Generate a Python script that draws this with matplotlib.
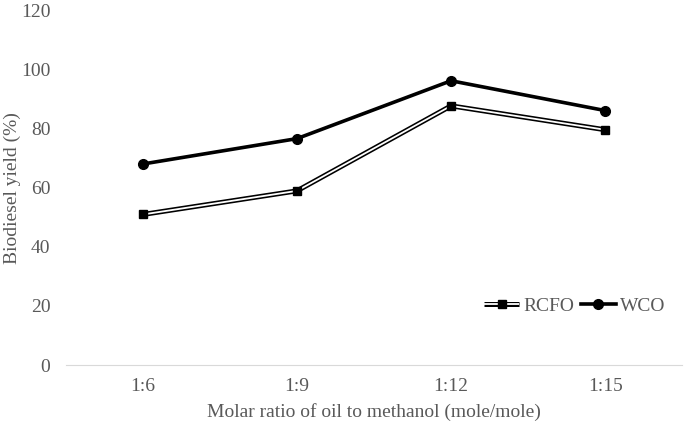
import matplotlib.pyplot as plt
from matplotlib.legend_handler import HandlerTuple
import numpy as np

plt.rcParams['font.family'] = ['Liberation Serif', 'DejaVu Serif']

# 数据
ratios = ['1:6', '1:9', '1:12', '1:15']
rcfo = [51.0, 59.0, 87.8, 79.7]
wco = [68.1, 76.7, 96.3, 86.2]

grey = '#595959'
x = np.arange(len(ratios))

fig = plt.figure(figsize=(6.85, 4.32), dpi=100)
ax = fig.add_axes([0.096, 0.155, 0.9, 0.82])

# RCFO: 双线 (黑色外框, 白色内芯)
l1, = ax.plot(x, rcfo, color='black', lw=3.6, solid_capstyle='butt')
l2, = ax.plot(x, rcfo, color='white', lw=1.3, solid_capstyle='butt')
l3, = ax.plot(x, rcfo, ls='none', marker='s', ms=6.4, mfc='black', mec='black')
w, = ax.plot(x, wco, color='black', lw=2.6, marker='o', ms=7)

ax.set_xlim(-0.5, 3.5)
ax.set_ylim(0, 120)
ax.set_yticks(np.arange(0, 121, 20))
ax.set_xticks(x)
ax.set_xticklabels(ratios)

for s in ['top', 'right', 'left']:
    ax.spines[s].set_visible(False)
ax.spines['bottom'].set_color('#d9d9d9')
ax.tick_params(axis='both', length=0, colors=grey, labelsize=14)
ax.tick_params(axis='x', pad=9)
ax.tick_params(axis='y', pad=11)

ax.set_xlabel('Molar ratio of oil to methanol (mole/mole)', color=grey, fontsize=14, labelpad=6)
fig.text(12 / 685, 0.565, 'Biodiesel yield (%)', color=grey, fontsize=14,
         rotation=90, ha='center', va='center')

leg = ax.legend([(l1, l2, l3), w], ['RCFO', 'WCO'],
                handler_map={tuple: HandlerTuple(ndivide=1, pad=0)},
                loc='center right', bbox_to_anchor=(0.985, 0.167), borderaxespad=0,
                ncol=2, frameon=False, fontsize=14, handlelength=1.8,
                columnspacing=0.35, handletextpad=0.2)
for t in leg.get_texts():
    t.set_color(grey)

fig.savefig('out.png', dpi=100)
